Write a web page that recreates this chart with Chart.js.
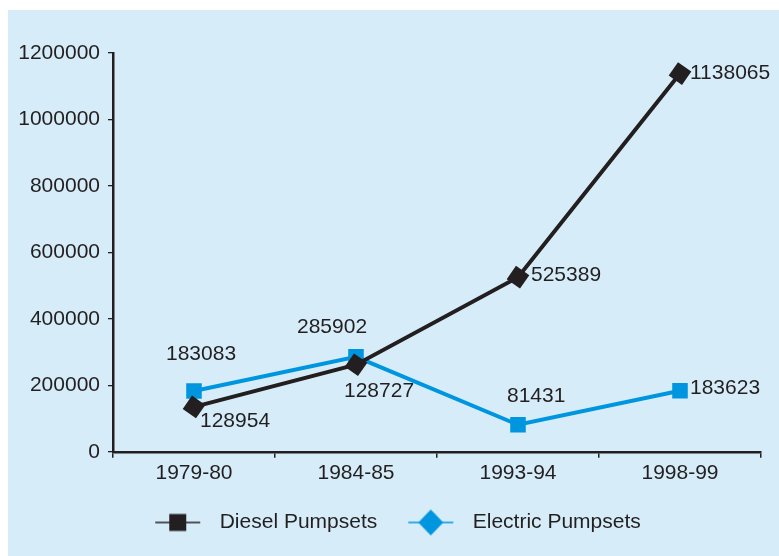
<!DOCTYPE html>
<html>
<head>
<meta charset="utf-8">
<script src="https://cdn.jsdelivr.net/npm/chart.js@4.4.1/dist/chart.umd.min.js"></script>
<style>
  html, body { margin: 0; padding: 0; background: #fff; }
  canvas { display: block; }
</style>
</head>
<body>
<canvas id="pumpChart" width="779" height="556"></canvas>
<script>
// data
const years = ['1979-80', '1984-85', '1993-94', '1998-99'];
const dieselValues = [135000, 262000, 525389, 1138065];
const electricValues = [183083, 285902, 81431, 183623];
const dieselLabels = ['128954', '128727', '525389', '1138065'];
const electricLabels = ['183083', '285902', '81431', '183623'];
const yTicks = [0, 200000, 400000, 600000, 800000, 1000000, 1200000];

const FONT = "'Liberation Sans', Arial, sans-serif";
const FSIZE = 21;
const INK = '#231f20';
const BLUE = '#0096df';
const BG = '#d6edf9';
const PAD_LEFT = 14;

// legend symbols: line with a marker (legend swaps the markers, as in the original)
// 21px of empty space on the left gives the gap between the two items
function legendIcon(kind) {
  const c = document.createElement('canvas');
  c.width = 75; c.height = 28;
  const g = c.getContext('2d');
  const col = kind === 'diesel' ? INK : BLUE;
  g.strokeStyle = col;
  g.lineWidth = 1.3;
  g.beginPath(); g.moveTo(21, 14); g.lineTo(66, 14); g.stroke();
  g.fillStyle = col;
  if (kind === 'diesel') {
    g.fillRect(35, 5.5, 17, 17);
  } else {
    g.beginPath();
    g.moveTo(43.5, 1); g.lineTo(56, 14); g.lineTo(43.5, 27); g.lineTo(31, 14);
    g.closePath(); g.fill();
  }
  return c;
}

const bgPlugin = {
  id: 'bg',
  beforeDraw(chart) {
    const ctx = chart.ctx;
    ctx.save();
    ctx.fillStyle = '#fff';
    ctx.fillRect(0, 0, chart.width, chart.height);
    ctx.fillStyle = BG;
    ctx.fillRect(8, 10, chart.width - 8, chart.height - 10);
    ctx.restore();
  }
};

const valueLabels = {
  id: 'valueLabels',
  afterDatasetsDraw(chart, args, opts) {
    const ctx = chart.ctx;
    ctx.save();
    ctx.font = FSIZE + 'px ' + FONT;
    ctx.fillStyle = INK;
    ctx.textAlign = 'left';
    ctx.textBaseline = 'middle';
    chart.data.datasets.forEach((ds, di) => {
      const meta = chart.getDatasetMeta(di);
      const texts = di === 0 ? dieselLabels : electricLabels;
      const offs = opts.offsets[di];
      meta.data.forEach((pt, i) => {
        ctx.fillText(texts[i], pt.x + offs[i][0], pt.y + offs[i][1]);
      });
    });
    ctx.restore();
  }
};

const ctx = document.getElementById('pumpChart').getContext('2d');
new Chart(ctx, {
  type: 'line',
  data: {
    labels: years,
    datasets: [{
      label: 'Diesel Pumpsets',
      data: dieselValues,
      borderColor: INK,
      backgroundColor: INK,
      borderWidth: 4,
      pointStyle: 'rect',
      pointRotation: 35,
      pointRadius: 11.5,
      pointBorderWidth: 0,
      tension: 0
    }, {
      label: 'Electric Pumpsets',
      data: electricValues,
      borderColor: BLUE,
      backgroundColor: BLUE,
      borderWidth: 4,
      pointStyle: 'rect',
      pointRadius: 11,
      pointBorderWidth: 0,
      tension: 0
    }]
  },
  options: {
    responsive: false,
    animation: false,
    devicePixelRatio: 1,
    layout: { padding: { left: PAD_LEFT, right: 18, top: 53, bottom: 13 } },
    scales: {
      x: {
        offset: true,
        afterFit(scale) { scale.height += 13; },
        grid: {
          offset: true,
          drawOnChartArea: false,
          drawTicks: true,
          tickLength: 6,
          color: INK,
          lineWidth: 1.5
        },
        border: { display: true, color: INK, width: 2.5 },
        ticks: { color: INK, font: { family: FONT, size: FSIZE }, padding: 3 }
      },
      y: {
        min: 0,
        max: 1200000,
        afterBuildTicks(scale) {
          scale.ticks = yTicks.map(v => ({ value: v }));
        },
        afterFit(scale) { scale.width = 113 - PAD_LEFT; },
        grid: {
          drawOnChartArea: false,
          drawTicks: true,
          tickLength: 5,
          color: INK,
          lineWidth: 1.3
        },
        border: { display: true, color: INK, width: 2.5 },
        ticks: {
          color: INK,
          font: { family: FONT, size: FSIZE },
          padding: 8,
          callback: v => String(v)
        }
      }
    },
    plugins: {
      tooltip: { enabled: false },
      legend: {
        position: 'bottom',
        labels: {
          color: INK,
          font: { family: FONT, size: FSIZE },
          usePointStyle: true,
          pointStyleWidth: 75,
          padding: 10,
          generateLabels(chart) {
            return chart.data.datasets.map((ds, i) => ({
              text: ds.label,
              pointStyle: legendIcon(i === 0 ? 'diesel' : 'electric'),
              fillStyle: ds.borderColor,
              strokeStyle: ds.borderColor,
              lineWidth: 0,
              fontColor: INK,
              hidden: false,
              datasetIndex: i
            }));
          }
        }
      },
      valueLabels: {
        offsets: [
          [[6, 14], [-12, 26], [13, -2], [10, 0]],
          [[-28, -37], [-59, -30], [-11, -29], [10, -3]]
        ]
      }
    }
  },
  plugins: [bgPlugin, valueLabels]
});
</script>
</body>
</html>
